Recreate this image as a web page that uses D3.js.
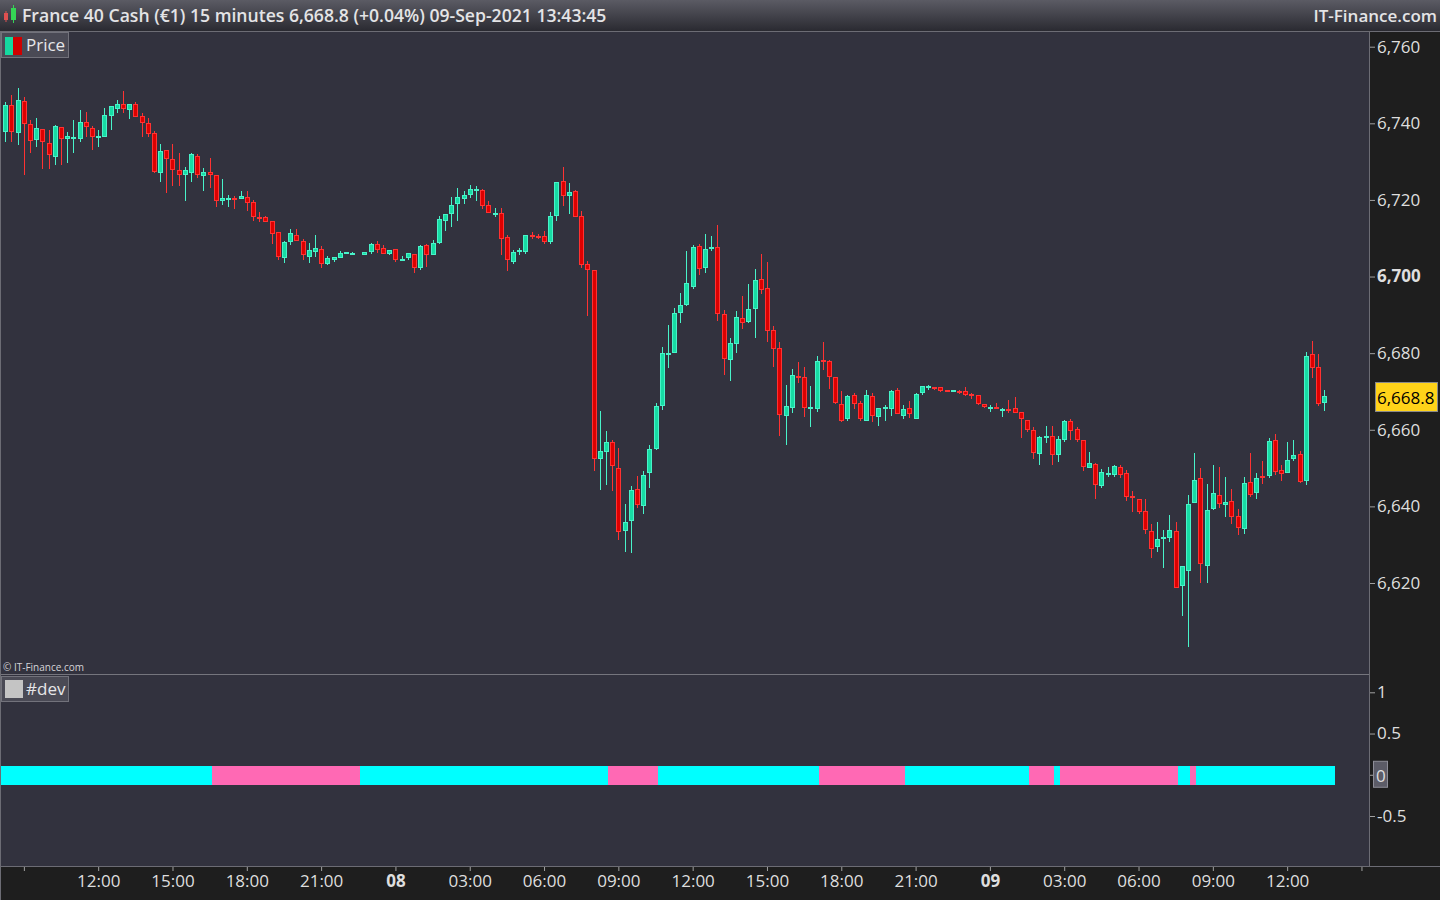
<!DOCTYPE html>
<html>
<head>
<meta charset="utf-8">
<script src="https://cdn.jsdelivr.net/npm/d3@7"></script>
<style>
  body { margin: 0; background: #1e1e1e; overflow: hidden; }
  svg { display: block; }
  text { font-family: "Open Sans", "Noto Sans", sans-serif; }
</style>
</head>
<body>
<svg id="chart" width="1440" height="900"></svg>
<script>
// 15 minute candles, France 40 Cash, 07-Sep-2021 08:15 .. 09-Sep-2021 13:30
var startTime = new Date(2021, 8, 7, 8, 15);
var barMinutes = 15;

var opens = [6737.8,6744.8,6737.6,6745.8,6739.8,6735.7,6738.5,6734.9,6731.3,6739.0,6736.0,6736.1,6736.0,6740.4,6738.7,6736.5,6736.5,6742.0,6743.8,6745.1,
6743.6,6745.1,6741.9,6740.1,6737.5,6727.1,6733.0,6730.7,6727.8,6726.6,6727.1,6731.5,6726.3,6727.3,6726.5,6719.8,6720.3,6720.5,6720.3,6720.8,
6719.5,6715.6,6715.6,6714.5,6711.6,6704.9,6709.1,6710.9,6709.3,6705.2,6706.4,6707.2,6703.4,6704.4,6704.9,6706.2,6706.0,null,6705.7,6706.5,
6708.5,6707.5,6706.0,6707.2,6704.2,6704.9,6705.9,6702.1,6708.3,6705.6,6708.8,6714.6,6716.4,6719.0,6720.3,6721.4,6722.5,6722.6,6718.6,6716.3,
6716.6,6710.3,6703.9,6706.7,6706.5,6710.8,6710.6,6710.6,6708.9,6715.9,6724.9,6720.9,6722.3,6715.8,6703.2,6701.6,6652.5,6654.3,6656.8,6650.0,
6633.5,6636.1,6644.5,6640.1,6648.7,6655.0,6666.2,6679.6,6680.0,6690.4,6692.7,6697.4,6707.9,6702.2,6707.5,6707.7,6690.2,6678.2,6682.3,6689.1,
6688.1,6691.5,6699.3,6696.9,6686.0,6681.3,6663.5,6665.6,6674.0,6673.7,6665.5,6665.5,6678.2,6677.9,6673.7,6666.8,6662.7,6669.0,6666.9,6662.4,
6668.8,6663.4,6665.5,6665.5,6670.3,6663.7,6665.6,6662.7,6669.5,6671.1,6671.1,6671.1,6670.3,6670.1,6670.1,6670.1,6669.3,6669.0,6666.8,6665.6,
6665.9,6665.1,6665.4,6665.6,6664.6,6662.5,6659.9,6653.8,6658.1,6658.3,6653.3,6657.3,6662.3,6660.2,6657.3,6650.1,6651.0,6645.4,6648.5,6648.3,
6650.2,6648.7,6642.7,6641.9,6638.7,6633.5,6629.4,6631.6,6631.7,6633.5,6619.1,6623.1,6640.8,6647.4,6624.5,6639.3,6642.9,6640.3,6641.4,6637.4,
6634.1,6646.3,6643.4,6647.9,6647.9,6657.3,6649.5,6648.7,6652.3,6653.6,6646.6,6679.7,6676.3,6666.9];

var highs = [6745.6,6747.4,6749.2,6746.9,6740.9,6741.4,6738.5,6738.3,6739.6,6739.0,6737.7,6740.9,6743.5,6743.0,6739.3,6738.3,6744.0,6744.5,6746.1,6748.4,
6745.1,6745.6,6742.7,6741.4,6738.0,6734.6,6733.0,6734.6,6732.3,6728.6,6732.3,6732.0,6728.4,6731.0,6726.5,6725.5,6721.3,6720.9,6722.3,6722.3,
6720.0,6716.9,6715.8,6714.5,6711.6,6709.3,6712.4,6712.4,6709.8,6708.8,6710.9,6708.0,6705.4,6705.1,6706.7,6706.4,6706.4,null,6706.4,6708.8,
6709.3,6708.3,6707.0,6707.2,6705.4,6706.2,6705.9,6708.3,6708.5,6709.6,6715.8,6716.3,6720.8,6723.1,6722.3,6723.9,6723.7,6722.9,6719.7,6717.9,
6717.9,6710.9,6707.0,6707.5,6710.9,6711.6,6711.1,6711.9,6716.9,6724.7,6728.6,6724.4,6722.6,6717.1,6704.1,6701.6,6664.9,6659.7,6657.4,6655.3,
6640.7,6645.4,6648.0,6649.2,6656.0,6666.9,6681.6,6687.3,6691.7,6695.6,6706.6,6708.2,6708.4,6711.0,6710.5,6713.4,6691.2,6683.9,6690.9,6694.9,
6698.0,6701.9,6705.8,6703.7,6687.0,6682.9,6671.6,6675.8,6677.6,6676.3,6671.5,6679.3,6682.9,6678.2,6673.7,6670.2,6669.0,6669.6,6667.5,6670.3,
6669.5,6665.6,6666.4,6670.4,6670.9,6666.4,6667.5,6669.5,6671.4,6671.7,6671.1,6671.1,6670.3,6670.3,6670.3,6671.1,6669.5,6669.0,6666.8,6666.4,
6666.9,6665.6,6667.8,6668.6,6664.6,6662.5,6660.8,6658.5,6660.9,6660.9,6658.3,6662.6,6662.8,6660.7,6657.3,6654.1,6651.3,6649.7,6650.3,6650.8,
6650.8,6649.4,6644.1,6641.9,6641.9,6635.5,6636.0,6633.9,6637.8,6635.9,6624.4,6643.0,6654.0,6650.1,6645.9,6650.8,6650.3,6647.7,6644.6,6639.4,
6647.7,6654.0,6648.7,6651.9,6657.8,6658.8,6650.8,6656.8,6657.3,6654.4,6680.2,6683.1,6679.7,6670.3];

var lows = [6735.1,6735.1,6734.4,6726.5,6732.3,6733.7,6728.1,6728.1,6729.2,6729.2,6729.7,6732.3,6735.1,6736.5,6733.1,6733.9,6736.5,6738.3,6742.8,6742.6,
6741.2,6741.7,6736.3,6736.3,6726.9,6724.8,6721.9,6723.7,6723.7,6719.8,6724.8,6725.8,6722.4,6723.2,6718.2,6718.8,6718.2,6717.7,6720.3,6717.2,
6714.6,6714.3,6714.3,6708.6,6704.2,6703.6,6708.3,6709.4,6704.2,6703.6,6705.2,6702.3,6703.1,6703.9,6704.9,6706.2,6706.0,null,6705.7,6706.0,
6706.2,6706.0,6705.6,6703.9,6704.2,6704.2,6700.8,6701.8,6702.6,6705.5,6708.5,6711.9,6713.0,6714.6,6719.0,6720.6,6719.8,6717.7,6716.5,6715.6,
6705.6,6701.5,6703.4,6705.6,6706.0,6709.8,6709.8,6708.6,6708.6,6714.6,6718.5,6716.4,6715.5,6702.2,6689.8,6649.3,6644.4,6645.7,6643.9,6631.1,
6628.2,6627.9,6639.5,6638.0,6644.7,6654.8,6665.1,6676.1,6680.0,6687.8,6692.4,6696.8,6700.5,6701.0,6706.6,6688.5,6674.2,6672.7,6680.0,6686.3,
6687.8,6683.9,6695.4,6682.9,6676.3,6658.3,6656.0,6664.3,6672.2,6663.3,6660.8,6664.7,6675.6,6670.7,6666.6,6661.9,6662.2,6665.3,6662.2,6662.2,
6661.9,6661.1,6662.2,6663.7,6664.0,6662.7,6663.2,6662.7,6669.0,6670.4,6670.4,6669.9,6669.9,6670.1,6669.4,6668.8,6668.1,6666.4,6665.6,6664.7,
6665.3,6663.4,6664.5,6664.5,6657.9,6659.3,6652.3,6650.9,6656.6,6650.7,6651.7,6656.7,6657.4,6656.9,6649.3,6649.9,6642.0,6644.9,6647.8,6647.8,
6647.3,6641.3,6638.6,6637.9,6632.7,6626.6,6628.2,6623.8,6630.6,6618.6,6611.5,6603.4,6640.8,6619.9,6619.9,6639.1,6639.5,6637.3,6635.5,6632.4,
6632.7,6642.4,6641.9,6645.8,6647.4,6648.1,6646.6,6648.7,6651.8,6646.1,6645.5,6673.4,6666.3,6664.8];

var closes = [6744.8,6737.8,6746.1,6739.9,6735.5,6738.7,6735.2,6731.6,6739.3,6736.0,6736.6,6736.4,6740.4,6739.1,6736.5,6736.6,6742.2,6744.5,6745.1,6743.8,
6745.1,6741.7,6740.2,6737.3,6727.4,6732.8,6730.6,6727.9,6726.6,6727.8,6732.0,6726.6,6727.3,6726.6,6719.8,6720.5,6720.5,6719.9,6721.0,6719.3,
6715.6,6715.2,6714.3,6711.2,6705.2,6709.0,6711.4,6709.4,6705.5,6707.0,6707.5,6703.4,6704.9,6705.1,6706.2,6706.4,6706.2,null,6706.4,6708.5,
6707.0,6706.0,6707.0,6704.2,6704.7,6706.2,6702.1,6708.0,6705.5,6708.8,6715.0,6716.3,6718.6,6720.8,6721.3,6722.9,6722.8,6718.5,6716.5,6716.7,
6709.9,6704.3,6706.4,6707.0,6710.9,6710.3,6710.2,6709.1,6715.8,6724.7,6721.0,6722.1,6715.5,6703.0,6701.6,6652.3,6654.4,6656.8,6650.5,6633.3,
6635.9,6644.2,6640.3,6648.1,6654.9,6666.2,6680.0,6680.0,6690.4,6692.5,6698.3,6707.7,6701.9,6707.1,6707.7,6690.2,6678.4,6682.6,6689.4,6687.8,
6691.5,6699.0,6696.4,6685.7,6681.0,6663.8,6666.2,6674.2,6673.5,6665.6,6665.9,6677.9,6677.8,6673.7,6667.1,6662.4,6668.8,6666.6,6662.7,6669.0,
6663.7,6665.6,6665.9,6670.2,6664.0,6665.4,6664.0,6669.3,6671.4,6671.4,6670.7,6670.1,6670.2,6670.3,6669.5,6669.0,6669.0,6666.7,6666.0,6665.9,
6665.3,6665.4,6665.2,6664.5,6662.7,6660.0,6654.0,6658.1,6658.4,6653.3,6657.5,6662.3,6659.8,6657.4,6650.4,6651.3,6645.7,6648.9,6648.7,6650.5,
6648.3,6642.4,6642.4,6638.6,6633.8,6629.0,6631.4,6632.0,6633.8,6618.6,6624.4,6640.7,6646.8,6624.9,6639.0,6643.4,6640.6,6641.1,6637.3,6634.3,
6646.1,6642.9,6647.4,6647.6,6657.0,6648.9,6648.4,6652.1,6653.4,6646.3,6679.2,6676.1,6666.6,6668.8];

// #dev indicator: runs of [sign, number of bars]
var devRuns = [[1,34],[-1,24],[1,40],[-1,8],[1,26],[-1,14],[1,20],[-1,4],[1,1],[-1,19],[1,2],[-1,1],[1,22]];

var priceTicks = [6620, 6640, 6660, 6680, 6700, 6720, 6740, 6760];
var devTicks = [1, 0.5, -0.5];
var lastPrice = 6668.8;
var titleText = "France 40 Cash (\u20ac1) 15 minutes 6,668.8 (+0.04%) 09-Sep-2021 13:43:45";

// layout
var W = 1440, H = 900;
var plotRight = 1369;
var headerH = 31;
var priceBottom = 674;
var devTop = 675, devBottom = 866;

var upFill = '#17dca4', upLine = '#48f3c9';
var downFill = '#dc0000', downLine = '#ff3232';

var svg = d3.select('#chart');

var timeOf = function(i) { return new Date(startTime.getTime() + i * barMinutes * 60000); };
var candles = opens.map(function(o, i) {
  return { t: timeOf(i), o: o, h: highs[i], l: lows[i], c: closes[i] };
}).filter(function(d) { return d.o !== null; });

var nBars = opens.length;
var x = d3.scaleTime()
          .domain([timeOf(0), timeOf(nBars - 1)])
          .range([5.3, 1324.3]);
var step = x(timeOf(1)) - x(timeOf(0));

var y = d3.scaleLinear()
          .domain([6620, 6760])
          .range([583, 46.7]);

var yDev = d3.scaleLinear()
             .domain([-0.5, 1])
             .range([816, 692.3]);

// backgrounds
svg.append('rect').attr('width', W).attr('height', H).attr('fill', '#1e1e1e');
svg.append('rect').attr('x', 0).attr('y', headerH).attr('width', plotRight).attr('height', devBottom - headerH).attr('fill', '#32323e');

var grad = svg.append('defs').append('linearGradient').attr('id', 'hdr').attr('x1', 0).attr('y1', 0).attr('x2', 0).attr('y2', 1);
grad.append('stop').attr('offset', '0%').attr('stop-color', '#5b5b64');
grad.append('stop').attr('offset', '100%').attr('stop-color', '#2a2a31');
svg.append('rect').attr('width', W).attr('height', headerH).attr('fill', 'url(#hdr)');

// header
var hdr = svg.append('g');
hdr.append('rect').attr('x', 4).attr('y', 13).attr('width', 4).attr('height', 7).attr('fill', '#e05050');
hdr.append('line').attr('x1', 6).attr('x2', 6).attr('y1', 11).attr('y2', 22).attr('stroke', '#e05050');
hdr.append('rect').attr('x', 11).attr('y', 8).attr('width', 5).attr('height', 12).attr('fill', '#35d655');
hdr.append('line').attr('x1', 13.5).attr('x2', 13.5).attr('y1', 5).attr('y2', 23).attr('stroke', '#35d655');
hdr.append('text').attr('x', 22).attr('y', 22).attr('font-size', 17.6).attr('font-weight', 600)
   .attr('fill', '#e4e4e6').text(titleText);
hdr.append('text').attr('x', 1437).attr('y', 22).attr('font-size', 17).attr('font-weight', 600)
   .attr('text-anchor', 'end').attr('fill', '#e4e4e6').text('IT-Finance.com');

// frame lines
svg.append('line').attr('x1', 0).attr('x2', W).attr('y1', headerH + 0.5).attr('y2', headerH + 0.5).attr('stroke', '#6c6c74');
svg.append('line').attr('x1', 0).attr('x2', plotRight).attr('y1', priceBottom + 0.5).attr('y2', priceBottom + 0.5).attr('stroke', '#75757d');
svg.append('line').attr('x1', 0).attr('x2', W).attr('y1', devBottom + 0.5).attr('y2', devBottom + 0.5).attr('stroke', '#6c6c74');
svg.append('line').attr('x1', plotRight + 0.5).attr('x2', plotRight + 0.5).attr('y1', headerH).attr('y2', devBottom).attr('stroke', '#6c6c74');
svg.append('line').attr('x1', 0.5).attr('x2', 0.5).attr('y1', headerH).attr('y2', H).attr('stroke', '#6c6c74');

// candles
var gC = svg.append('g').attr('class', 'candles');
var bars = gC.selectAll('g.bar').data(candles).enter().append('g').attr('class', 'bar');

bars.append('line')
    .attr('x1', function(d) { return Math.round(x(d.t)) + 0.5; })
    .attr('x2', function(d) { return Math.round(x(d.t)) + 0.5; })
    .attr('y1', function(d) { return Math.round(y(d.h)); })
    .attr('y2', function(d) { return Math.round(y(d.l)); })
    .attr('stroke', function(d) { return d.c >= d.o ? upLine : downLine; })
    .attr('stroke-width', 1);

bars.append('rect')
    .attr('x', function(d) { return Math.round(x(d.t)) - 1.5; })
    .attr('width', 4)
    .attr('y', function(d) { return Math.round(y(Math.max(d.o, d.c))) + 0.5; })
    .attr('height', function(d) {
      return Math.max(1, Math.round(y(Math.min(d.o, d.c))) - Math.round(y(Math.max(d.o, d.c))) - 1);
    })
    .attr('fill', function(d) { return d.c >= d.o ? upFill : downFill; })
    .attr('stroke', function(d) { return d.c >= d.o ? upLine : downLine; })
    .attr('stroke-width', 1);

// #dev band
var devCells = [];
devRuns.forEach(function(r) {
  for (var k = 0; k < r[1]; k++) devCells.push({ i: devCells.length, v: r[0] });
});
svg.append('g').selectAll('rect').data(devCells).enter().append('rect')
   .attr('x', function(d) { return x(timeOf(d.i)) - step / 2 - 1; })
   .attr('width', function(d) { return d.i === devCells.length - 1 ? step + 2.5 : step + 0.4; })
   .attr('y', yDev(0.11))
   .attr('height', yDev(-0.13) - yDev(0.11))
   .attr('fill', function(d) { return d.v > 0 ? '#00ffff' : '#ff69b4'; })
   .attr('shape-rendering', 'crispEdges');

// legends
function legendBox(yTop, label, drawIcon) {
  var g = svg.append('g');
  g.append('rect').attr('x', 1.5).attr('y', yTop + 0.5).attr('width', 67).attr('height', 25)
   .attr('fill', '#4a4a55').attr('stroke', '#72727b');
  drawIcon(g);
  g.append('text').attr('x', 26).attr('y', yTop + 19).attr('font-size', 17).attr('fill', '#e6e6e8').text(label);
}
legendBox(32, 'Price', function(g) {
  g.append('rect').attr('x', 5).attr('y', 37).attr('width', 8).attr('height', 18).attr('fill', '#15d9a0');
  g.append('rect').attr('x', 13).attr('y', 37).attr('width', 9).attr('height', 18).attr('fill', '#d00000');
});
legendBox(676, '#dev', function(g) {
  g.append('rect').attr('x', 5).attr('y', 680).attr('width', 18).attr('height', 18).attr('fill', '#c4c4c4');
});
svg.append('text').attr('x', 3).attr('y', 671).attr('font-size', 10).attr('fill', '#d4d4d8').text('\u00a9 IT-Finance.com');

// price axis
var yAxisG = svg.append('g').attr('transform', 'translate(' + (plotRight + 1) + ',0)');
yAxisG.call(d3.axisRight(y).tickValues(priceTicks).tickSize(5).tickFormat(d3.format(',')));
yAxisG.select('.domain').remove();
yAxisG.selectAll('.tick line').attr('stroke', '#a0a0a0');
yAxisG.selectAll('.tick text').attr('x', 7).attr('fill', '#dedede').attr('font-size', 17)
      .attr('font-family', '"Open Sans", "Noto Sans", sans-serif')
      .attr('font-weight', function(d) { return d % 100 === 0 ? 700 : 400; });

// last price marker
var yl = y(lastPrice);
svg.append('rect').attr('x', 1375.5).attr('y', Math.round(yl) - 13.5).attr('width', 62).attr('height', 29)
   .attr('fill', '#ffd319').attr('stroke', '#8a8a8a');
svg.append('text').attr('x', 1377).attr('y', Math.round(yl) + 8).attr('font-size', 17).attr('fill', '#000')
   .text(d3.format(',.1f')(lastPrice));

// dev axis
var dAxisG = svg.append('g').attr('transform', 'translate(' + (plotRight + 1) + ',0)');
dAxisG.call(d3.axisRight(yDev).tickValues(devTicks.concat([0])).tickSize(5)
  .tickFormat(function(d) { return String(d); }));
dAxisG.select('.domain').remove();
dAxisG.selectAll('.tick line').attr('stroke', '#a0a0a0');
dAxisG.selectAll('.tick text').attr('x', 7).attr('fill', '#dedede').attr('font-size', 17)
      .attr('font-family', '"Open Sans", "Noto Sans", sans-serif')
      .attr('opacity', function(d) { return d === 0 ? 0 : 1; });
var y0 = yDev(0);
svg.append('rect').attr('x', 1373.5).attr('y', y0 - 13.5).attr('width', 14).attr('height', 26)
   .attr('fill', '#5c5c67').attr('stroke', '#8e8e98');
svg.append('text').attr('x', 1376).attr('y', y0 + 7).attr('font-size', 17).attr('fill', '#dedede').text('0');

// time axis
var timeTicks = d3.timeHour.every(3).range(new Date(2021, 8, 7, 9), new Date(2021, 8, 9, 16));
var xAxisG = svg.append('g').attr('transform', 'translate(0,' + (devBottom + 1) + ')');
xAxisG.call(d3.axisBottom(x).tickValues(timeTicks).tickSize(4).tickPadding(4)
  .tickFormat(function(d) {
    var px = x(d);
    if (px < 40 || px > 1340) return '';
    return d.getHours() === 0 ? d3.timeFormat('%d')(d) : d3.timeFormat('%H:%M')(d);
  }));
xAxisG.select('.domain').remove();
xAxisG.selectAll('.tick line').attr('stroke', '#a0a0a0');
xAxisG.selectAll('.tick text').attr('fill', '#dedede').attr('font-size', 17)
      .attr('font-family', '"Open Sans", "Noto Sans", sans-serif')
      .attr('font-weight', function(d) { return d.getHours() === 0 ? 700 : 400; });
</script>
</body>
</html>
